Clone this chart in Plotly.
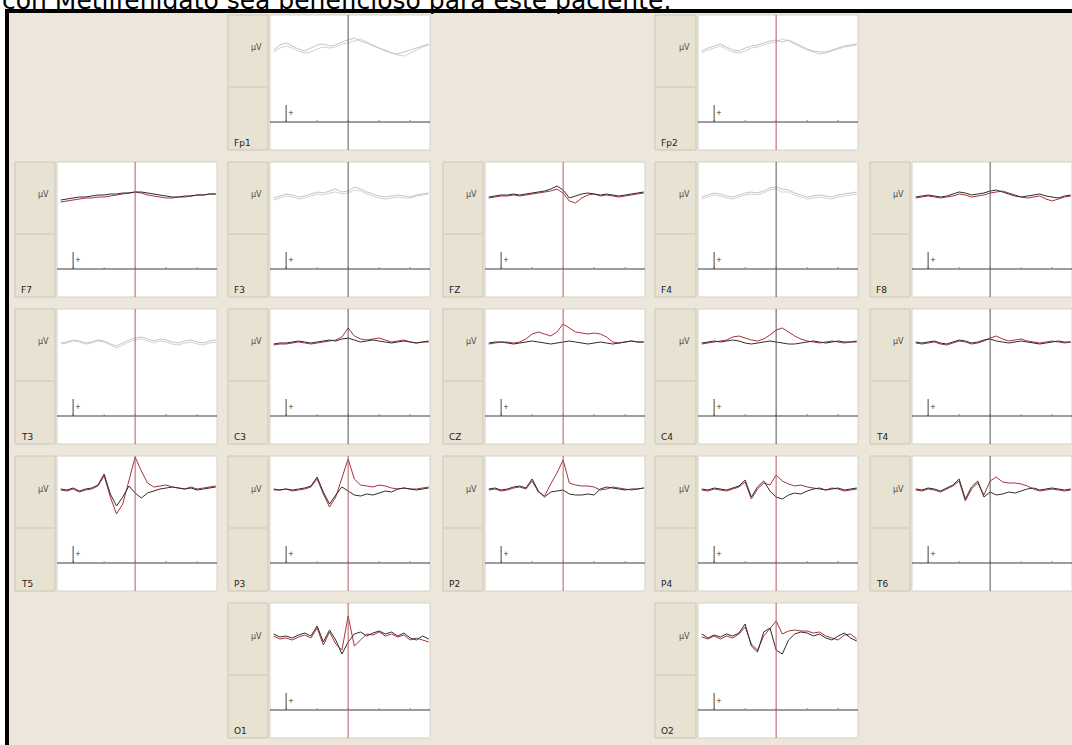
import plotly.graph_objects as go

W, H = 1072, 745

# ---------------- data ----------------
time_ms = list(range(-240, 261, 20))

channels = ["Fp1", "Fp2", "F7", "F3", "FZ", "F4", "F8", "T3", "C3", "CZ",
            "C4", "T4", "T5", "P3", "P2", "P4", "T6", "O1", "O2"]
grid_rows = [0, 0, 1, 1, 1, 1, 1, 2, 2, 2, 2, 2, 3, 3, 3, 3, 3, 4, 4]
grid_cols = [1, 3, 0, 1, 2, 3, 4, 0, 1, 2, 3, 4, 0, 1, 2, 3, 4, 1, 3]
inactive = ["Fp1", "Fp2", "F3", "F4", "T3"]
red_cursor = ["Fp2", "F7", "FZ", "T3", "CZ", "T5", "P3", "P2", "P4", "O1", "O2"]

fp1_a = [-2, 3, 5, 2, -1, -3, 0, 3, 4, 2, 3, 6, 8, 10, 7, 5, 2, 0, -3, -5, -6, -4, -2, 0, 2, 4]
fp1_b = [-4, 0, 2, 0, -3, -5, -4, -1, 1, 0, 1, 4, 5, 7, 9, 6, 3, 0, -2, -5, -7, -8, -5, -2, 1, 3]
fp2_a = [-3, 0, 2, 4, 1, -2, -3, 0, 2, 3, 5, 7, 8, 6, 8, 5, 2, -1, -3, -4, -4, -2, 0, 2, 3, 4]
fp2_b = [-5, -2, 0, 2, -1, -4, -5, -3, 0, 1, 3, 5, 6, 9, 7, 4, 1, -2, -4, -6, -5, -3, -1, 1, 2, 3]
f7_a = [-5, -4, -3, -2, -2, -1, 0, 0, 1, 1, 2, 2, 3, 3, 2, 1, 0, -1, -2, -2, -1, -1, 0, 0, 1, 1]
f7_b = [-7, -6, -5, -4, -3, -3, -2, -2, -1, 0, 1, 2, 3, 2, 0, -1, -2, -3, -3, -2, -2, -1, 0, 0, 1, 1]
f3_a = [-3, -1, 1, 0, -2, -1, 1, 3, 2, 4, 6, 3, 4, 8, 6, 3, 1, -1, -2, -1, 0, -1, -2, 0, 1, 2]
f3_b = [-5, -3, -1, -2, -4, -3, -1, 1, 0, 2, 3, 1, 2, 5, 4, 1, -1, -3, -4, -3, -2, -3, -3, -1, 0, 1]
fz_a = [-2, -1, 0, 0, 1, 0, 1, 2, 3, 4, 6, 9, 5, -3, -1, 1, 2, 1, 0, 1, 0, -1, 0, 1, 2, 3]
fz_b = [-3, -2, -1, -1, 0, -1, 0, 1, 2, 3, 4, 6, 2, -6, -8, -3, 0, 1, -1, 0, -1, -2, -1, 0, 1, 2]
f4_a = [-2, 0, 2, 1, -1, -2, 0, 2, 3, 2, 4, 7, 8, 6, 5, 2, 0, -2, -1, 0, -1, -2, 0, 1, 2, 3]
f4_b = [-4, -2, 0, -1, -3, -4, -2, 0, 1, 0, 2, 5, 6, 3, 3, 0, -2, -4, -3, -2, -3, -4, -2, -1, 0, 1]
f8_a = [-2, -1, 0, -1, -2, -1, 1, 3, 2, 0, 1, 2, 4, 5, 3, 1, -1, -2, -1, 0, 1, -1, -2, -3, -1, 0]
f8_b = [-3, -2, -1, -2, -3, -2, -1, 1, 0, -2, -1, 0, 2, 3, 4, 2, 0, -2, -3, -2, -1, -4, -6, -4, -2, -1]
t3_a = [-1, 0, 2, 1, -1, 0, 2, 1, -2, -4, -1, 2, 4, 5, 3, 1, 3, 2, 0, -1, 1, 2, 0, -1, 1, 2]
t3_b = [-2, -1, 1, 0, -2, -1, 1, 0, -3, -6, -3, 0, 2, 3, 1, -1, 1, 0, -2, -3, -1, 0, -2, -3, -1, 0]
c3_a = [-2, -1, -1, 0, 1, 0, -1, 0, 1, 2, 1, 3, 4, 2, 0, 1, 2, 1, 0, -1, 0, 1, 0, -1, 0, 1]
c3_b = [-3, -2, -2, -1, 0, -1, -2, -1, 0, 1, 2, 5, 14, 6, 3, 2, 3, 4, 2, 0, 1, 2, 0, -1, 0, 0]
cz_a = [-1, 0, 0, -1, -2, -1, 0, 1, 0, -1, -2, -1, 0, 1, 0, -1, -2, -1, 0, -1, -2, -1, 0, 1, 0, 0]
cz_b = [-2, -1, 0, 0, -1, 0, 3, 8, 10, 8, 6, 10, 18, 14, 10, 9, 8, 9, 8, 5, 0, -1, 0, 1, 0, 0]
c4_a = [-1, 0, 1, 0, 1, 2, 1, -1, -2, -1, 0, 1, 0, -1, -2, -2, -1, 0, 1, 0, -1, 0, 1, 0, 0, 1]
c4_b = [-2, -1, 0, 1, 2, 5, 6, 4, 2, 1, 3, 7, 12, 14, 10, 6, 3, 1, 0, -1, 0, 1, 0, -1, 0, 0]
t4_a = [0, -1, 0, 1, -1, -2, 0, 2, 1, -1, 0, 2, 3, 1, 0, -1, 0, 1, 0, -1, -2, -1, 0, 1, 0, 0]
t4_b = [-1, -2, -1, 0, -2, -3, -1, 1, 0, -2, -1, 1, 4, 6, 3, 1, 2, 3, 1, 0, -1, 0, 1, 0, -1, 0]
t5_a = [0, -1, 1, -2, 0, 1, 4, 15, -5, -17, -8, 3, -4, -9, -4, -2, 0, 1, 2, 1, 0, 1, -1, 0, 1, 2]
t5_b = [-1, -2, 0, -3, -1, 0, 3, 13, -8, -25, -15, 10, 32, 18, 6, 2, 3, 4, 2, 1, 0, 2, 0, 1, 2, 3]
p3_a = [0, -1, 0, -1, 0, 1, 3, 12, -3, -15, -6, 2, -2, -6, -7, -5, -6, -4, -2, -3, 0, 1, 0, -1, 0, 1]
p3_b = [-1, -1, 0, -2, -1, 0, 2, 10, -5, -18, -8, 12, 30, 10, 4, 3, 2, 4, 3, 1, 0, 1, 0, 0, 1, 2]
pz_a = [0, 1, -1, 0, 2, 3, 1, 10, -2, -8, -3, -2, -1, -5, -6, -6, -5, -6, 0, 2, 1, 0, -1, 0, 0, 1]
pz_b = [-1, 0, -2, -1, 1, 2, 0, 8, -3, -7, 5, 16, 29, 6, 4, 3, 3, 2, -1, 0, 2, 1, 0, -1, 0, 1]
p4_a = [0, -1, 1, 0, -1, 1, 3, 9, -8, 2, 8, -2, -8, -10, -6, -4, -5, -2, 0, 1, -1, 0, 1, -1, 0, 1]
p4_b = [-1, -2, 0, -1, -2, 0, 2, 7, -10, 0, 6, 4, 14, 8, 5, 3, 4, 2, 1, 0, -1, 1, 0, -2, -1, 0]
t6_a = [0, -1, 1, 0, -2, 1, 4, 10, -10, 2, 8, -8, -3, -6, -5, -3, -4, -2, 0, 1, -1, 0, 1, 0, -1, 0]
t6_b = [-1, -2, 0, -1, -3, 0, 3, 8, -12, 0, 6, -6, 8, 12, 7, 6, 6, 5, 3, 0, -2, -1, 0, -1, -2, -1]
o1_a = [2, -1, 0, -2, 1, 3, 0, 10, -6, 6, -4, -18, -6, 2, 4, 0, 3, 5, 2, 4, 0, 3, -2, -4, 0, -3]
o1_b = [0, -3, -2, -4, -1, 1, -2, 8, -9, 4, -8, -14, 20, -10, -4, 2, 1, 4, 0, 2, -1, 1, -4, -2, -4, -6]
o2_a = [2, -2, 1, -1, 2, 0, 3, 12, -10, -16, 4, 8, -14, -18, -4, 2, 4, 3, 0, 2, -2, -4, 0, 3, -2, -5]
o2_b = [-1, -3, 0, -3, 0, -2, 2, 9, -8, -14, 0, 8, 15, 2, 5, 6, 5, 5, 3, 4, 0, -2, -4, 1, 2, -3]

trace_a = [fp1_a, fp2_a, f7_a, f3_a, fz_a, f4_a, f8_a, t3_a, c3_a, cz_a,
           c4_a, t4_a, t5_a, p3_a, pz_a, p4_a, t6_a, o1_a, o2_a]
trace_b = [fp1_b, fp2_b, f7_b, f3_b, fz_b, f4_b, f8_b, t3_b, c3_b, cz_b,
           c4_b, t4_b, t5_b, p3_b, pz_b, p4_b, t6_b, o1_b, o2_b]

axis_ticks = [-200, -100, 0, 100, 200]
title_text = "con Metilfenidato sea beneficioso para este paciente."

# ---------------- geometry ----------------
strip_x0 = [15, 228, 443, 655, 870]
plot_x0 = [57, 270, 485, 698, 912]
plot_w = 160
row_y0 = [15, 162, 309, 456, 603]
row_h = 135
X_RANGE = [-252, 264]
Y_RANGE = [-102, 33]
AXIS_Y = -74
BAR_TOP = -57


def px(x):
    return x / W


def py(y):
    return 1 - y / H


BG = "#ECE7DA"
STRIP = "#E8E2D2"
EDGE = "#CBC6B8"

fig = go.Figure()
shapes = []
annotations = []

# beige working area and black frame
shapes.append(dict(type="rect", xref="paper", yref="paper", x0=px(8), x1=1, y0=0, y1=py(12),
                   fillcolor=BG, line=dict(width=0), layer="below"))
shapes.append(dict(type="path", xref="paper", yref="paper",
                   path=f"M {px(7)},0 L {px(7)},{py(11)} L 1,{py(11)}",
                   line=dict(color="black", width=4), layer="below"))

layout_axes = {}
for i, name in enumerate(channels):
    r, c = grid_rows[i], grid_cols[i]
    n = i + 1
    xa = f"xaxis{n}" if n > 1 else "xaxis"
    ya = f"yaxis{n}" if n > 1 else "yaxis"
    xr = f"x{n}" if n > 1 else "x"
    yr = f"y{n}" if n > 1 else "y"
    left = plot_x0[c]
    right = min(left + plot_w, W)
    top = row_y0[r]
    bottom = top + row_h
    layout_axes[xa] = dict(domain=[px(left), px(right)], range=X_RANGE, anchor=yr,
                           showgrid=False, zeroline=False, showticklabels=False,
                           showline=False, ticks="", fixedrange=True)
    layout_axes[ya] = dict(domain=[py(bottom), py(top)], range=Y_RANGE, anchor=xr,
                           showgrid=False, zeroline=False, showticklabels=False,
                           showline=False, ticks="", fixedrange=True)

    # label strip
    sx0 = strip_x0[c]
    shapes.append(dict(type="rect", xref="paper", yref="paper",
                       x0=px(sx0), x1=px(left - 2), y0=py(bottom), y1=py(top),
                       fillcolor=STRIP, line=dict(color=EDGE, width=1), layer="below"))
    shapes.append(dict(type="line", xref="paper", yref="paper",
                       x0=px(sx0 + 1), x1=px(left - 3), y0=py(top + 72), y1=py(top + 72),
                       line=dict(color=EDGE, width=1), layer="below"))
    # plot border
    shapes.append(dict(type="rect", xref="paper", yref="paper",
                       x0=px(left), x1=px(right), y0=py(bottom), y1=py(top),
                       fillcolor="white", line=dict(color="#D6D2C8", width=1), layer="below"))
    # horizontal time axis
    shapes.append(dict(type="line", xref=xr, yref=yr, x0=X_RANGE[0], x1=X_RANGE[1],
                       y0=AXIS_Y, y1=AXIS_Y, line=dict(color="#3C3C3C", width=1)))
    for t in axis_ticks:
        shapes.append(dict(type="line", xref=xr, yref=yr, x0=t, x1=t,
                           y0=AXIS_Y, y1=AXIS_Y + 2, line=dict(color="#8A8A8A", width=1)))
    # scale bar
    shapes.append(dict(type="line", xref=xr, yref=yr, x0=-200, x1=-200,
                       y0=AXIS_Y, y1=BAR_TOP, line=dict(color="#444444", width=1)))
    # stimulus cursor
    vcol = "#B45A64" if name in red_cursor else "#555555"
    shapes.append(dict(type="line", xref=xr, yref=yr, x0=0, x1=0,
                       y0=Y_RANGE[0], y1=Y_RANGE[1], line=dict(color=vcol, width=1)))

    annotations.append(dict(xref=xr, yref=yr, x=-184, y=AXIS_Y + 9, text="+",
                            showarrow=False, font=dict(size=7, color="#333333",
                                                       family="DejaVu Sans")))
    annotations.append(dict(xref="paper", yref="paper", x=px(left - 6), y=py(top + 33),
                            xanchor="right", yanchor="middle", text="µV", showarrow=False,
                            font=dict(size=8, color="#4A4A4A", family="DejaVu Sans")))
    annotations.append(dict(xref="paper", yref="paper", x=px(sx0 + 4), y=py(bottom - 7),
                            xanchor="left", yanchor="middle", text=name, showarrow=False,
                            font=dict(size=9, color="#222222", family="DejaVu Sans")))

    if name in inactive:
        ca, cb = "#C4C4C4", "#D2D2D2"
    else:
        ca, cb = "#2E2E2E", "#A8323C"
    fig.add_trace(go.Scatter(x=time_ms, y=trace_b[i], mode="lines", xaxis=xr, yaxis=yr,
                             line=dict(color=cb, width=1), hoverinfo="skip", showlegend=False))
    fig.add_trace(go.Scatter(x=time_ms, y=trace_a[i], mode="lines", xaxis=xr, yaxis=yr,
                             line=dict(color=ca, width=1), hoverinfo="skip", showlegend=False))

annotations.append(dict(xref="paper", yref="paper", x=px(1), y=py(16), xanchor="left",
                        yanchor="bottom", text=title_text, showarrow=False, borderpad=0,
                        font=dict(size=25, color="black", family="DejaVu Sans")))

fig.update_layout(width=W, height=H, margin=dict(l=0, r=0, t=0, b=0),
                  paper_bgcolor="white", plot_bgcolor="white",
                  shapes=shapes, annotations=annotations, showlegend=False, **layout_axes)

fig.write_html("out.html", config=dict(displayModeBar=False),
               post_script="document.body.style.margin='0';document.body.style.padding='0';")
